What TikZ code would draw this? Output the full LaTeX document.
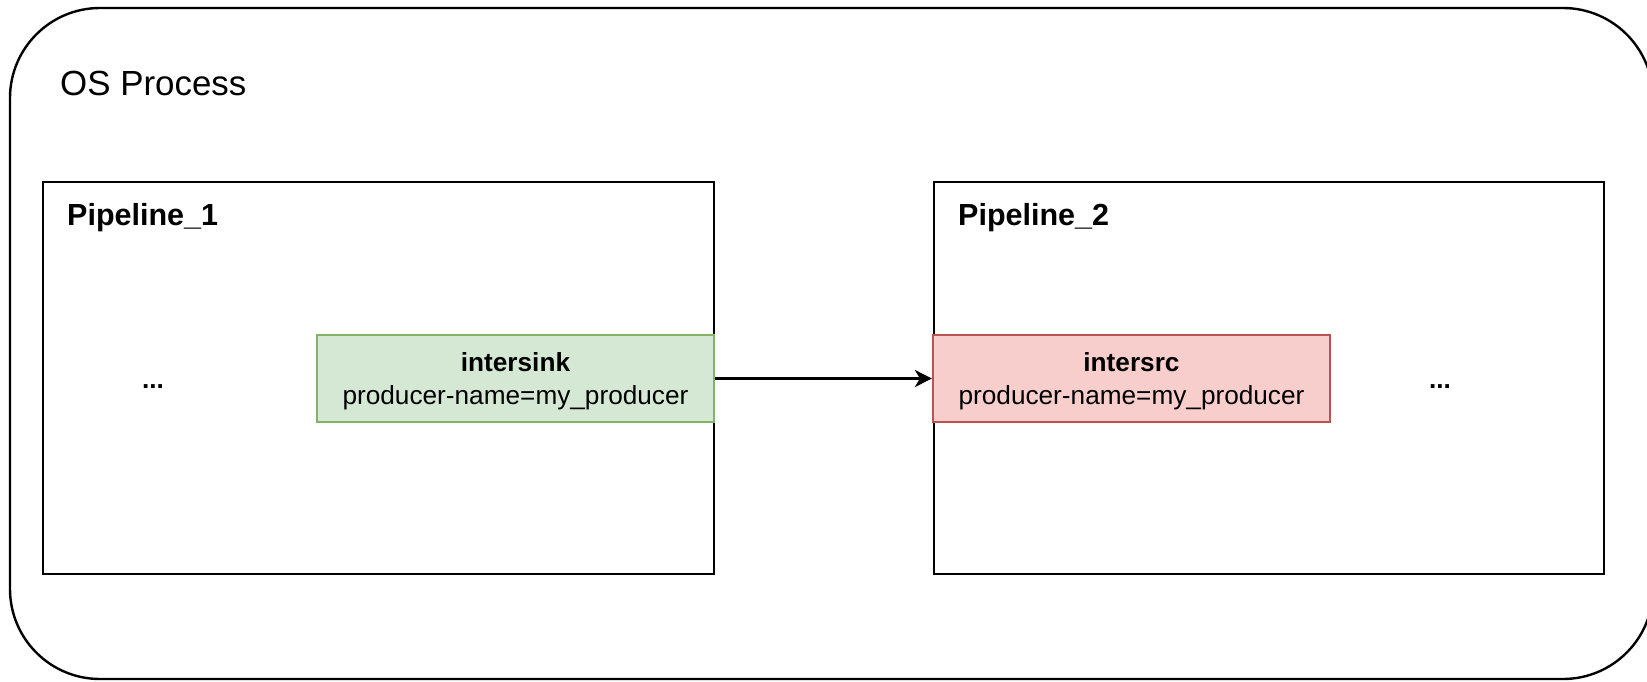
\documentclass[tikz,border=0pt]{standalone}
\usepackage{fontspec}
\setmainfont{Liberation Sans}
\usetikzlibrary{arrows.meta}
\definecolor{gfill}{HTML}{D5E8D4}
\definecolor{gdraw}{HTML}{82B366}
\definecolor{rfill}{HTML}{F8CECC}
\definecolor{rdraw}{HTML}{B85450}
\tikzset{
  frame/.style={draw=black, line width=2.4pt},
  elembox/.style={rectangle, line width=2.2pt, inner sep=0pt, align=center,
    minimum width=397pt, minimum height=87pt, text depth=0pt,
    font=\fontsize{26.2}{30}\selectfont},
  sinkbox/.style={elembox, draw=gdraw, fill=gfill},
  srcbox/.style={elembox, draw=rdraw, fill=rfill},
  title/.style={anchor=base west, inner sep=0pt, font=\fontsize{30.5}{36}\selectfont\bfseries},
  dots/.style={anchor=base, inner sep=0pt, font=\fontsize{26.2}{30}\selectfont\bfseries},
  link/.style={draw=black, line width=2.4pt, -{Stealth[length=17pt,width=17pt,inset=5pt]}}
}
\begin{document}
\begin{tikzpicture}[x=1pt,y=-1pt]
\useasboundingbox (0,0) rectangle (1647,681);
\clip (0,0) rectangle (1647,681);
\draw[frame, rounded corners=90pt] (10,8) rectangle (1653,679);
\node[anchor=base west, inner sep=0pt, font=\fontsize{34.9}{40}\selectfont] (os) at (60,95) {OS Process};

\draw[frame] (43,182) rectangle (714,574);
\draw[frame] (934,182) rectangle (1604,574);
\node[title] (p1t) at (67,225) {Pipeline\_1};
\node[title] (p2t) at (958,225) {Pipeline\_2};

\node[sinkbox] (sink) at (515.5,378.5) {\textbf{intersink}\\[3pt]producer-name=my\_producer};
\node[srcbox] (src) at (1131.5,378.5) {\textbf{intersrc}\\[3pt]producer-name=my\_producer};

\node[dots] (d1) at (153,388) {...};
\node[dots] (d2) at (1440,388) {...};

\draw[link] (sink.east) -- (src.west);
\end{tikzpicture}
\end{document}
